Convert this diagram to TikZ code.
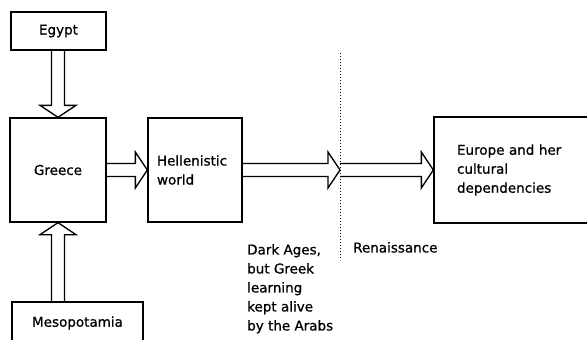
\documentclass[tikz,border=0pt]{standalone}
\usepackage{fontspec}
\setmainfont{DejaVu Sans}[FakeBold=0.8]
\usetikzlibrary{calc}

% hollow block arrow from #1 to #2
\newcommand{\arrshaft}{6.5pt}
\newcommand{\arrwing}{18pt}
\newcommand{\arrhead}{12pt}
\newcommand{\blockarrow}[2]{%
  \coordinate (hb) at ($(#2)!\arrhead!(#1)$);
  \draw[hollow] ($(#1)!\arrshaft!90:(#2)$) -- ($(hb)!\arrshaft!90:(#2)$)
    -- ($(hb)!\arrwing!90:(#2)$) -- (#2) -- ($(hb)!\arrwing!-90:(#2)$)
    -- ($(hb)!\arrshaft!-90:(#2)$) -- ($(#1)!\arrshaft!-90:(#2)$);}

\begin{document}
\begin{tikzpicture}[x=1pt, y=-1pt, font=\fontsize{13.5}{19}\selectfont,
  box/.style={draw, line width=1.3pt, inner sep=0pt},
  hollow/.style={draw, line width=1.3pt, line join=miter},
  label/.style={inner sep=0pt, align=left}]
\useasboundingbox (0,0) rectangle (587,340);
\node[box, minimum width=95pt, minimum height=38pt] (egypt) at (58.5,31) {Egypt};
\node[box, minimum width=96pt, minimum height=104pt] (greece) at (58,170) {Greece};
\node[box, minimum width=131pt, minimum height=42pt] (meso) at (77.5,323) {Mesopotamia};
\node[box, minimum width=94pt, minimum height=104pt, text width=76pt, inner xsep=9pt, align=left] (hellen) at (195,170) {Hellenistic\\world};
\node[box, minimum width=170pt, minimum height=106pt, text width=124pt, inner xsep=23pt, align=left] (europe) at (519,170) {Europe and her\\cultural\\dependencies};
% era boundary
\coordinate (eratop) at (340,53);
\coordinate (erabot) at (340,260);
\coordinate (era) at (340,170);
\draw[line width=1pt, dotted] (eratop) -- (erabot);
\node[label, anchor=north west] (dark) at (247,244) {Dark Ages,\\but Greek\\learning\\kept alive\\by the Arabs};
\node[label, anchor=north west] (renais) at (353,242) {Renaissance};
% transmission arrows
\blockarrow{greece.north |- egypt.south}{greece.north}
\blockarrow{greece.south |- meso.north}{greece.south}
\blockarrow{greece.east}{hellen.west}
\blockarrow{hellen.east}{era}
\blockarrow{era}{europe.west}
\end{tikzpicture}
\end{document}
